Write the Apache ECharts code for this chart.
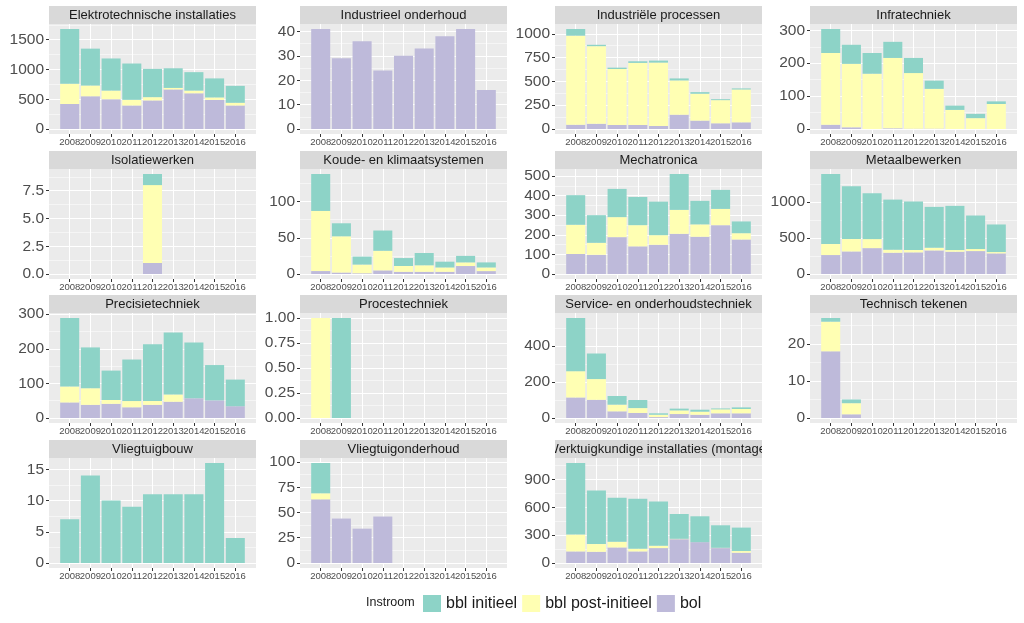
<!DOCTYPE html>
<html><head><meta charset="utf-8">
<script src="https://cdn.jsdelivr.net/npm/echarts@6/dist/echarts.min.js"></script>
<style>html,body{margin:0;padding:0;background:#fff}#c{width:1024px;height:623px}</style>
</head><body><div id="c"></div>
<script>
const categories = ['2008','2009','2010','2011','2012','2013','2014','2015','2016'];
const facets = [
  'Elektrotechnische installaties','Industrieel onderhoud','Industriële processen','Infratechniek',
  'Isolatiewerken','Koude- en klimaatsystemen','Mechatronica','Metaalbewerken',
  'Precisietechniek','Procestechniek','Service- en onderhoudstechniek','Technisch tekenen',
  'Vliegtuigbouw','Vliegtuigonderhoud','Werktuigkundige installaties (montage)'
];
// one row per facet, in the order of `facets`
const bolData = [
  [420, 550, 500, 395, 480, 665, 600, 490, 395],
  [41, 29, 36, 24, 30, 33, 38, 41, 16],
  [45, 55, 42, 42, 32, 150, 88, 60, 70],
  [13, 5, 0, 2, 1, 1, 0, 0, 0],
  [0, 0, 0, 0, 1, 0, 0, 0, 0],
  [4, 2, 1, 5, 3, 3, 3, 11, 4],
  [102, 98, 188, 141, 149, 205, 190, 249, 176],
  [263, 313, 359, 295, 300, 327, 309, 318, 286],
  [45, 38, 41, 31, 38, 47, 57, 51, 34],
  [0, 0, 0, 0, 0, 0, 0, 0, 0],
  [114, 101, 37, 28, 5, 22, 18, 26, 26],
  [18, 1, 0, 0, 0, 0, 0, 0, 0],
  [0, 0, 0, 0, 0, 0, 0, 0, 0],
  [63, 44, 34, 46, 0, 0, 0, 0, 0],
  [125, 121, 168, 125, 161, 257, 225, 161, 111]
];
const bblPostData = [
  [340, 180, 145, 95, 55, 25, 45, 40, 45],
  [0, 0, 0, 0, 0, 0, 0, 0, 0],
  [935, 815, 588, 652, 665, 360, 282, 243, 345],
  [218, 193, 168, 214, 169, 121, 58, 33, 76],
  [0, 0, 0, 0, 7, 0, 0, 0, 0],
  [83, 50, 12, 27, 8, 9, 6, 5, 5],
  [149, 61, 102, 108, 49, 122, 63, 83, 32],
  [152, 171, 125, 41, 32, 37, 23, 28, 18],
  [46, 48, 11, 18, 11, 21, 0, 0, 0],
  [1, 0, 0, 0, 0, 0, 0, 0, 0],
  [146, 115, 37, 27, 13, 20, 17, 22, 24],
  [8, 3, 0, 0, 0, 0, 0, 0, 0],
  [0, 0, 0, 0, 0, 0, 0, 0, 0],
  [6, 0, 0, 0, 0, 0, 0, 0, 0],
  [182, 83, 61, 29, 25, 4, 0, 3, 18]
];
const bblInitData = [
  [920, 620, 540, 610, 475, 330, 310, 320, 285],
  [0, 0, 0, 0, 0, 0, 0, 0, 0],
  [70, 14, 14, 17, 21, 21, 17, 10, 11],
  [73, 58, 63, 49, 46, 25, 13, 13, 8],
  [0, 0, 0, 0, 1, 0, 0, 0, 0],
  [51, 18, 11, 28, 11, 17, 8, 9, 7],
  [151, 141, 144, 144, 171, 183, 120, 97, 60],
  [972, 733, 636, 696, 673, 567, 613, 465, 383],
  [198, 118, 85, 120, 164, 179, 161, 102, 77],
  [0, 1, 0, 0, 0, 0, 0, 0, 0],
  [295, 142, 48, 45, 8, 10, 11, 5, 9],
  [1, 1, 0, 0, 0, 0, 0, 0, 0],
  [7, 14, 10, 9, 11, 11, 11, 16, 4],
  [30, 0, 0, 0, 0, 0, 0, 0, 0],
  [772, 578, 475, 539, 478, 268, 279, 243, 253]
];
const tickSteps = [500, 10, 250, 100, 2.5, 50, 100, 500, 100, 0.25, 200, 10, 5, 25, 300];
const legendTitle = 'Instroom';
const seriesNames = ['bbl initieel', 'bbl post-initieel', 'bol'];

const FONT = '"Liberation Sans", Arial, Helvetica, sans-serif';
const colLefts = [49, 300, 555, 810];
const rowTops = [24, 169, 313, 458];
const panelW = 207, panelH = 110, stripH = 18;
const colInit = '#8DD3C7', colPost = '#FFFFB3', colBol = '#BEBADA';

// empty slots at both ends reproduce ggplot's discrete-axis padding
const axisCats = [''].concat(categories, ['']);
const pad = arr => [null].concat(arr, [null]);
const isReal = (index, value) => value !== '';

const grids = [], xAxes = [], yAxes = [], series = [], graphics = [];

facets.forEach((name, i) => {
  const r = Math.floor(i / 4), c = i % 4;
  const left = colLefts[c], top = rowTops[r];
  grids.push({left, top, width: panelW, height: panelH, show: true,
    backgroundColor: '#EBEBEB', borderWidth: 0, containLabel: false});
  const totals = categories.map((_, k) => bolData[i][k] + bblPostData[i][k] + bblInitData[i][k]);
  const T = Math.max(...totals);
  const ymin = -0.05 * T, ymax = 1.05 * T;
  const step = tickSteps[i];
  const majors = [], minors = [];
  for (let v = 0; v <= ymax + 1e-9; v += step) majors.push(+v.toFixed(6));
  for (let v = step / 2; v <= ymax + 1e-9; v += step) minors.push(+v.toFixed(6));
  const dec = (String(step).split('.')[1] || '').length;

  xAxes.push({type: 'category', gridIndex: i, data: axisCats, boundaryGap: false, position: 'bottom',
    axisLine: {show: false, onZero: false},
    axisTick: {show: true, length: 3, interval: isReal, lineStyle: {color: '#333'}},
    axisLabel: {interval: 0, fontSize: 9.5, color: '#4D4D4D', margin: 3, fontFamily: FONT},
    splitLine: {show: true, interval: isReal, lineStyle: {color: '#FFFFFF', width: 1}}});
  yAxes.push({type: 'value', gridIndex: i, min: ymin, max: ymax, position: 'left',
    axisLine: {show: false, onZero: false},
    axisTick: {show: true, length: 3, customValues: majors, lineStyle: {color: '#333'}},
    axisLabel: {customValues: majors, formatter: v => Number(v).toFixed(dec),
      fontSize: 15.5, color: '#4D4D4D', margin: 5, fontFamily: FONT},
    splitLine: {show: true, lineStyle: {color: '#FFFFFF', width: 1.1}}});
  yAxes.push({type: 'value', gridIndex: i, min: ymin, max: ymax, position: 'left',
    axisLine: {show: false, onZero: false}, axisTick: {show: false, customValues: minors},
    axisLabel: {show: false},
    splitLine: {show: true, lineStyle: {color: '#FFFFFF', width: 0.5}}});

  const common = {type: 'bar', xAxisIndex: i, yAxisIndex: 2 * i, stack: 's' + i,
    barCategoryGap: '8%', silent: true};
  series.push(Object.assign({}, common, {name: seriesNames[2], data: pad(bolData[i]), itemStyle: {color: colBol}}));
  series.push(Object.assign({}, common, {name: seriesNames[1], data: pad(bblPostData[i]), itemStyle: {color: colPost}}));
  series.push(Object.assign({}, common, {name: seriesNames[0], data: pad(bblInitData[i]), itemStyle: {color: colInit}}));

  graphics.push({type: 'rect', shape: {x: left, y: top - stripH, width: panelW, height: stripH},
    style: {fill: '#D9D9D9'}, z: 10, silent: true});
  graphics.push({type: 'text', z: 11, silent: true,
    style: {x: left + panelW / 2, y: top - stripH / 2 + 0.5, text: name, fill: '#1A1A1A',
      font: '13px ' + FONT, textAlign: 'center', textVerticalAlign: 'middle',
      align: 'center', verticalAlign: 'middle'}});
});

// clip the overflowing strip label of the last facet, as in the reference
graphics.push({type: 'rect', shape: {x: 508, y: 436, width: 47, height: 22}, style: {fill: '#FFFFFF'}, z: 100, silent: true});
graphics.push({type: 'rect', shape: {x: 762, y: 436, width: 50, height: 22}, style: {fill: '#FFFFFF'}, z: 100, silent: true});
graphics.push({type: 'text', z: 11, silent: true,
  style: {x: 366, y: 603, text: legendTitle, fill: '#1A1A1A', font: '12.5px ' + FONT,
    textVerticalAlign: 'middle', verticalAlign: 'middle'}});

const chart = echarts.init(document.getElementById('c'), null, {renderer: 'canvas'});
chart.setOption({
  animation: false,
  textStyle: {fontFamily: FONT},
  grid: grids, xAxis: xAxes, yAxis: yAxes, series: series,
  legend: {data: seriesNames, left: 423, top: 595, itemWidth: 18, itemHeight: 17, itemGap: 5,
    padding: 0, icon: 'rect', selectedMode: false,
    textStyle: {fontSize: 16, color: '#1A1A1A', fontFamily: FONT}},
  graphic: graphics
});
</script></body></html>
